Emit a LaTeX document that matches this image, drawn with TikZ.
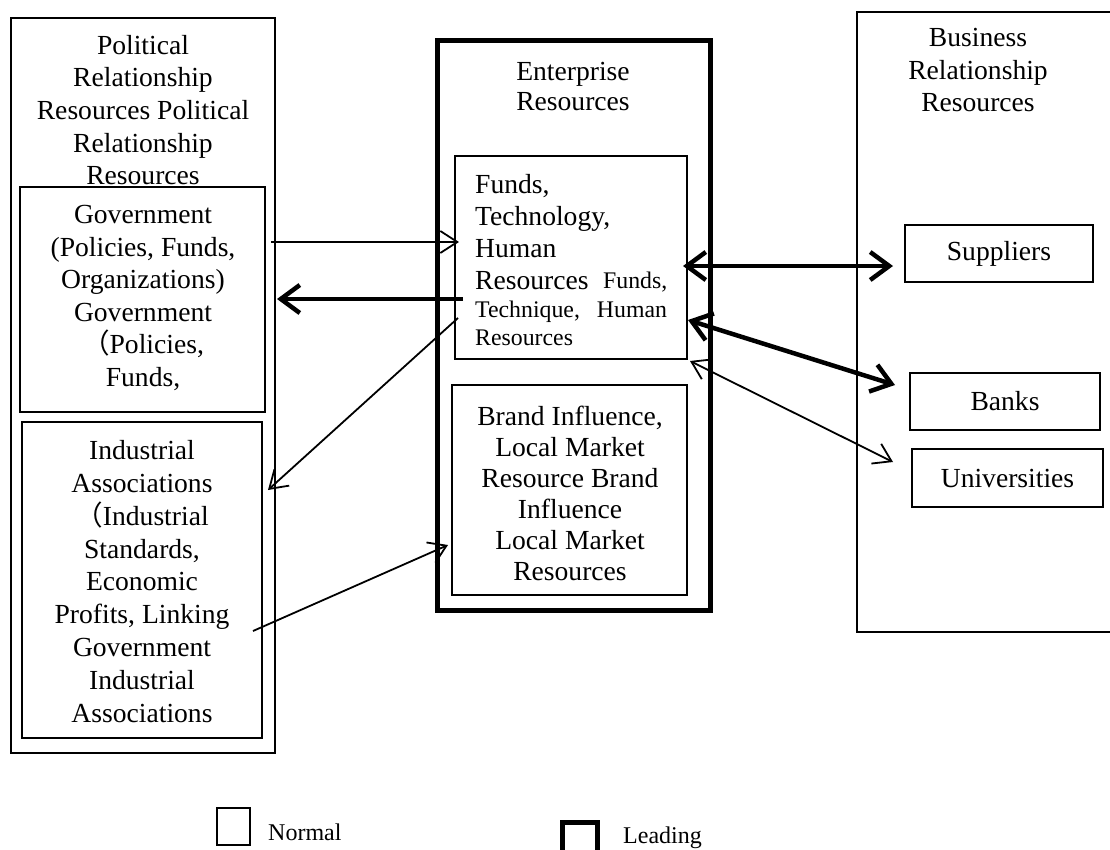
\documentclass[tikz,border=0pt]{standalone}
\usepackage{fontspec}
\setmainfont{Liberation Serif}
\newfontfamily\cjkfont{Noto Sans CJK SC}
\usetikzlibrary{arrows.meta,fit}
\begin{document}
\begin{tikzpicture}[x=1pt,y=-1pt,
  frame/.style={draw, line width=1.5pt, inner sep=0pt},
  leadframe/.style={draw, line width=5pt, inner sep=0pt},
  txt/.style={inner sep=0pt, align=center, font=\fontsize{27.6}{32.6}\selectfont},
  boxtxt/.style={frame, font=\fontsize{27.6}{32.6}\selectfont},
  thinhead/.style={Straight Barb[length=17pt,width=22pt]},
  bighead/.style={Straight Barb[length=19pt,width=28pt]},
  thinarrow/.style={line width=1.8pt, -{Straight Barb[length=17pt,width=22pt]}},
  thinboth/.style={line width=1.8pt, {Straight Barb[length=17pt,width=22pt]}-{Straight Barb[length=17pt,width=22pt]}},
  bigarrow/.style={line width=4.5pt, -{Straight Barb[length=19pt,width=28pt]}},
  bigboth/.style={line width=4.5pt, {Straight Barb[length=19pt,width=28pt]}-{Straight Barb[length=19pt,width=28pt]}}
]
\useasboundingbox (0,0) rectangle (1110,849);

% political relationship resources
\node[frame, fit={(11,18)(275,753)}] (pol) {};
\node[txt, anchor=north] (polT) at (143,35)
  {Political\\Relationship\\Resources Political\\Relationship\\Resources};
\node[frame, fit={(20,187)(265,412)}] (gov) {};
\node[txt, anchor=north] (govT) at (143,205)
  {Government\\(Policies, Funds,\\Organizations)\\Government\\{\cjkfont （}Policies,\\Funds,};
\node[frame, fit={(22,422)(262,738)}] (ind) {};
\node[txt, anchor=north, font=\fontsize{27.6}{32.9}\selectfont] (indT) at (142,440)
  {Industrial\\Associations\\{\cjkfont （}Industrial\\Standards,\\Economic\\Profits, Linking\\Government\\Industrial\\Associations};

% enterprise resources
\node[leadframe, fit={(437,40)(710,610)}] (ent) {};
\node[txt, anchor=north, font=\fontsize{27.6}{30}\selectfont] (entT) at (573,62) {Enterprise\\Resources};
\node[frame, fit={(455,156)(687,359)}] (funds) {};
\node[txt, anchor=north west, align=left, font=\fontsize{27.6}{32}\selectfont] (fundsT) at (475,174)
  {Funds,\\Technology,\\Human\\Resources};
\node[inner sep=0pt, anchor=base west, font=\fontsize{23.8}{28}\selectfont] (fundsS) at (603,288) {Funds,};
\node[inner sep=0pt, anchor=north west, align=left, font=\fontsize{23.8}{28}\selectfont] (techT) at (475,301)
  {Technique,\hspace{17pt}Human\\Resources};
\node[frame, fit={(452,385)(687,595)}] (brand) {};
\node[txt, anchor=north, font=\fontsize{27.6}{31}\selectfont] (brandT) at (570,406)
  {Brand Influence,\\Local Market\\Resource Brand\\Influence\\Local Market\\Resources};

% business relationship resources
\node[frame, fit={(857,12)(1118,632)}] (bus) {};
\node[txt, anchor=north] (busT) at (978,28) {Business\\Relationship\\Resources};
\node[boxtxt, minimum width=188pt, minimum height=57pt] (sup) at (999,253.5) {Suppliers};
\node[boxtxt, minimum width=190pt, minimum height=57pt] (bank) at (1005,401.5) {Banks};
\node[boxtxt, minimum width=191pt, minimum height=58pt] (uni) at (1007.5,478) {Universities};

% connector ends
\coordinate (g1) at (271,242);   \coordinate (f1) at (459,242);
\coordinate (f2) at (463,299);   \coordinate (g2) at (277,299);
\coordinate (f3) at (458,318);   \coordinate (i1) at (268,490);
\coordinate (i2) at (253,631);   \coordinate (b1) at (448,545);
\coordinate (f4) at (683,266);   \coordinate (s1) at (893,266);
\coordinate (f5) at (688,320);   \coordinate (k1) at (895,385);
\coordinate (f6) at (690,361);   \coordinate (u1) at (893,462);

\draw[thinarrow] (g1) -- (f1);
\draw[bigarrow] (f2) -- (g2);
\draw[thinarrow] (f3) -- (i1);
\draw[thinarrow] (i2) -- (b1);
\draw[bigboth] (f4) -- (s1);
\draw[bigboth] (f5) -- (k1);
\draw[thinboth] (f6) -- (u1);

% legend
\node[frame, fit={(217,808)(250,845)}] (normbox) {};
\node[inner sep=0pt, anchor=base west, font=\fontsize{24}{28}\selectfont] (normT) at (268,840) {Normal};
\node[leadframe, fit={(562,822)(597,875)}] (leadbox) {};
\node[inner sep=0pt, anchor=base west, font=\fontsize{24}{28}\selectfont] (leadT) at (623,843) {Leading};
\end{tikzpicture}
\end{document}
